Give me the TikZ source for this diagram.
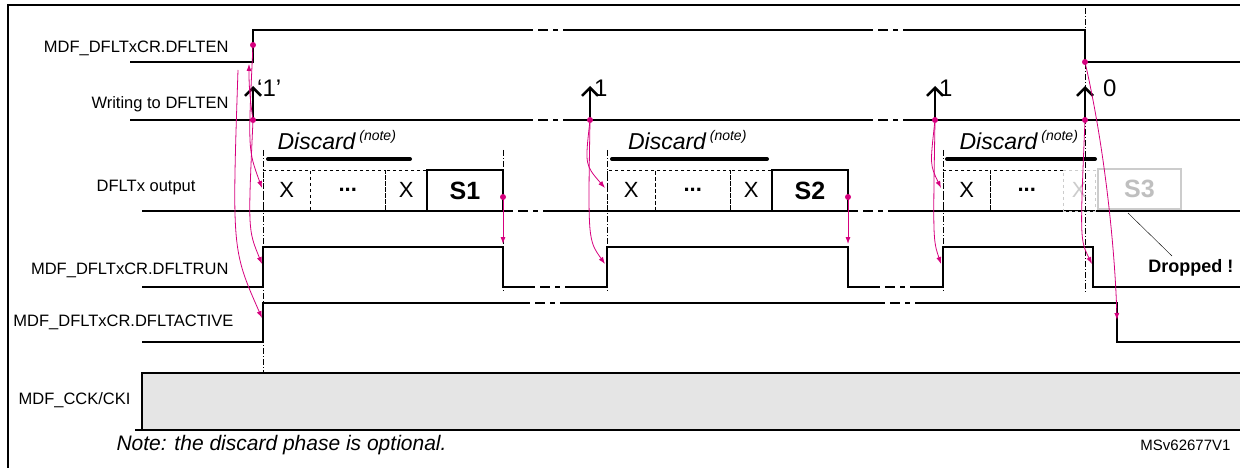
\documentclass[tikz,border=0pt]{standalone}
\usepackage{fontspec}
\setmainfont{Liberation Sans}
\usetikzlibrary{arrows.meta}
\definecolor{mag}{RGB}{214,0,126}
\begin{document}
\begin{tikzpicture}[x=1pt,y=-1pt,
  sig/.style={line width=2pt},
  lab/.style={font=\fontsize{16.5}{18}\selectfont,anchor=east},
  brk/.style={line width=2pt,dash pattern=on 5pt off 5pt on 10pt off 5pt},
  cell/.style={draw,dashed,thin,minimum height=41,anchor=south west,font=\fontsize{22}{24}\selectfont},
  ma/.style={mag,line width=0.8pt,-{Latex[length=7pt,width=5pt]}},
  dot/.style={circle,fill=mag,inner sep=0pt,minimum size=6pt},
  wr/.style={line width=2.5pt,-{Straight Barb[length=8pt,width=16pt,line width=2.5pt]}},
  vd/.style={thin,dash pattern=on 6pt off 2pt on 1pt off 2pt}]
\useasboundingbox (0,0) rectangle (1240,468);
\draw[line width=1.5pt] (8,468) -- (8,5) -- (1240,5);
% vertical dash-dot guides
\draw[vd] (263,150) -- (263,372);
\draw[vd] (503,150) -- (503,292);
\draw[vd] (607,150) -- (607,292);
\draw[vd] (943,150) -- (943,292);
\draw[vd] (1085,8) -- (1085,292);
% DFLTEN
\node[lab] (l1) at (232,48) {MDF\_DFLTxCR.DFLTEN};
\draw[sig] (130,62) -- (253,62) -- (253,30) -- (528,30);
\draw[brk] (528,30) -- (565,30);
\draw[sig] (565,30) -- (868,30);
\draw[brk] (868,30) -- (905,30);
\draw[sig] (905,30) -- (1085,30) -- (1085,62) -- (1240,62);
% Writing
\node[lab] (l2) at (232,104) {Writing to DFLTEN};
\draw[sig] (130,120) -- (528,120);
\draw[brk] (528,120) -- (565,120);
\draw[sig] (565,120) -- (868,120);
\draw[brk] (868,120) -- (905,120);
\draw[sig] (905,120) -- (1240,120);
\foreach \x/\t in {253/{`1'},590/1,935/1,1085/{\hspace{14pt}0}}{
  \draw[wr] (\x,120) -- (\x,86);
  \node[font=\fontsize{24}{26}\selectfont,anchor=west,inner sep=1pt] at (\x+3,88) {\t};}
% DFLTx output
\node[lab] (l3) at (199,188) {DFLTx output};
\draw[sig] (142,211) -- (508,211);
\draw[brk] (508,211) -- (545,211);
\draw[sig] (545,211) -- (853,211);
\draw[brk] (853,211) -- (890,211);
\draw[sig] (890,211) -- (1240,211);
\foreach \a/\b/\c/\d/\s in {263/310/385/427/S1,607/655/730/772/S2}{
  \node[cell,minimum width=\b-\a] at (\a,211) {X};
  \node[cell,minimum width=\c-\b] at (\b,211) {\bfseries ...};
  \node[cell,minimum width=\d-\c] at (\c,211) {X};
  \draw[line width=2pt] (\d,211) -- (\d,170) -- (\d+76,170) -- (\d+76,211);
  \node[font=\fontsize{25}{26}\selectfont\bfseries] at (\d+38,191) {\s};
}
\node[cell,minimum width=47] at (943,211) {X};
\node[cell,minimum width=73] at (990,211) {\bfseries ...};
\node[cell,draw=gray!40,text=gray!40,minimum width=32] at (1063,211) {X};
\node[draw=gray!40,line width=2pt,text=gray!50,minimum width=83,minimum height=40,anchor=south west,font=\fontsize{25}{26}\selectfont\bfseries] (s3) at (1097,210) {S3};
\foreach \a/\b in {268/410,612/767,947/1095}{
  \draw[line width=4pt,line cap=round] (\a,159) -- (\b,159);
  \node[font=\fontsize{23}{24}\selectfont\itshape] at ({(\a+\b)/2-2},140) {Discard\,\textsuperscript{\fontsize{14}{14}\selectfont(note)}};}
\node[font=\fontsize{18}{20}\selectfont\bfseries,anchor=east] (dr) at (1237,268) {Dropped !};
\draw[thin] (1128,213) -- (1172,256);
% DFLTRUN
\node[lab] (l4) at (232,270) {MDF\_DFLTxCR.DFLTRUN};
\draw[sig] (142,287) -- (263,287) -- (263,247) -- (503,247) -- (503,287) -- (530,287);
\draw[brk] (530,287) -- (575,287);
\draw[sig] (575,287) -- (607,287) -- (607,247) -- (848,247) -- (848,287) -- (875,287);
\draw[brk] (875,287) -- (920,287);
\draw[sig] (920,287) -- (943,287) -- (943,247) -- (1093,247) -- (1093,287) -- (1240,287);
% DFLTACTIVE
\node[lab] (l5) at (237,322) {MDF\_DFLTxCR.DFLTACTIVE};
\draw[sig] (142,342) -- (263,342) -- (263,303) -- (525,303);
\draw[brk] (525,303) -- (565,303);
\draw[sig] (565,303) -- (880,303);
\draw[brk] (880,303) -- (920,303);
\draw[sig] (920,303) -- (1117,303) -- (1117,342) -- (1240,342);
% CCK
\node[lab] (l6) at (134,400) {MDF\_CCK/CKI};
\fill[gray!20] (142,373) rectangle (1240,430);
\draw[sig] (135,430) -- (142,430) -- (142,373) -- (1240,373);
\draw[sig] (142,430) -- (1240,430);
% notes
\node[anchor=west,font=\fontsize{21}{22}\selectfont\itshape] at (113,445) {Note: the discard phase is optional.};
\node[anchor=east,font=\fontsize{15}{16}\selectfont] at (1234,445) {MSv62677V1};
% magenta causality
\node[dot] (d1) at (253,45) {};
\node[dot] (d2) at (253,120) {};
\node[dot] (d3) at (590,120) {};
\node[dot] (d4) at (935,120) {};
\node[dot] (d5) at (1085,120) {};
\node[dot] (d6) at (1085,62) {};
\node[dot] (d7) at (503,197) {};
\node[dot] (d8) at (848,197) {};
\coordinate (t1) at (249,64);
\draw[ma] (d2) to[bend left=4] (t1);
\draw[ma] (d1) .. controls (248,150) .. (262,188);
\draw[ma] (d2) .. controls (248,230) .. (262,264);
\draw[ma] (238,70) .. controls (232,250) .. (262,318);
\draw[ma] (d3) .. controls (585,165) .. (605,188);
\draw[ma] (d3) .. controls (588,240) .. (605,264);
\draw[ma] (d4) .. controls (930,165) .. (941,188);
\draw[ma] (d4) .. controls (933,240) .. (941,264);
\draw[ma] (d5) .. controls (1080,240) .. (1092,264);
\draw[ma] (d6) .. controls (1105,150) and (1115,250) .. (1117,320);
\draw[ma] (d7) -- (503,244);
\draw[ma] (d8) -- (848,244);
\end{tikzpicture}
\end{document}
